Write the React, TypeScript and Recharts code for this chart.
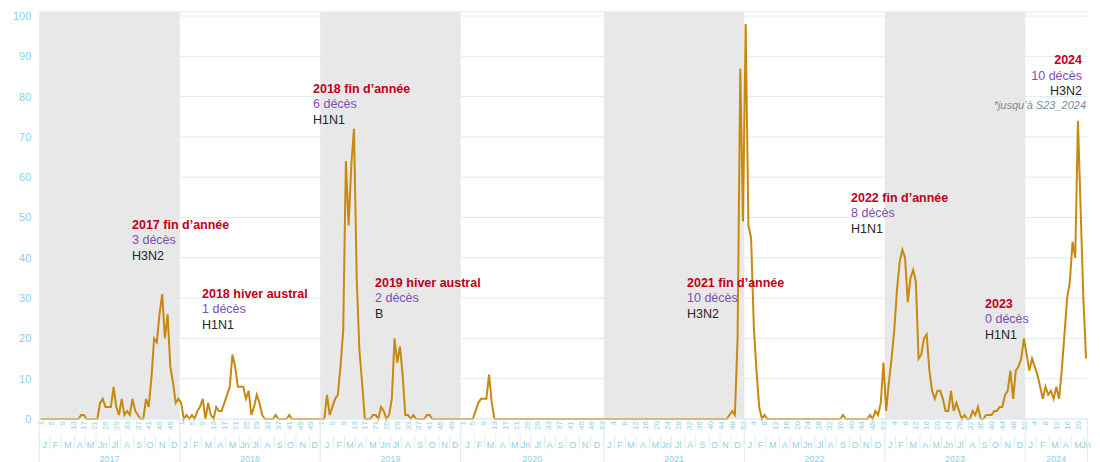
import React from "react";
import { ComposedChart, Line, XAxis, YAxis, CartesianGrid, ReferenceArea } from "recharts";

// weekly counts, read week by week from the source chart
const years = [2017, 2018, 2019, 2020, 2021, 2022, 2023, 2024];

const cases2017 = [0, 0, 0, 0, 0, 0, 0, 0, 0, 0, 0, 0, 0, 0, 0, 1, 1, 0, 0, 0, 0, 0, 4, 5, 3, 3, 3, 8, 3, 1, 5, 1, 2, 1, 5, 2, 1, 0, 0, 5, 3, 10, 20, 19, 26, 31, 20, 26, 13, 9, 4, 5];
const cases2018 = [4, 0, 1, 0, 1, 0, 2, 3, 5, 0, 4, 1, 0, 3, 2, 2, 4, 6, 8, 16, 13, 8, 8, 8, 5, 7, 1, 3, 6, 4, 1, 0, 0, 0, 0, 1, 0, 0, 0, 0, 1, 0, 0, 0, 0, 0, 0, 0, 0, 0, 0, 0];
const cases2019 = [0, 0, 6, 1, 3, 5, 6, 13, 22, 64, 48, 63, 72, 35, 17, 9, 0, 0, 0, 1, 1, 0, 3, 2, 0, 1, 5, 20, 14, 18, 11, 1, 1, 0, 1, 0, 0, 0, 0, 1, 1, 0, 0, 0, 0, 0, 0, 0, 0, 0, 0, 0];
const cases2020 = [0, 0, 0, 0, 0, 2, 4, 5, 5, 5, 11, 4, 0, 0, 0, 0, 0, 0, 0, 0, 0, 0, 0, 0, 0, 0, 0, 0, 0, 0, 0, 0, 0, 0, 0, 0, 0, 0, 0, 0, 0, 0, 0, 0, 0, 0, 0, 0, 0, 0, 0, 0, 0];
const cases2021 = [0, 0, 0, 0, 0, 0, 0, 0, 0, 0, 0, 0, 0, 0, 0, 0, 0, 0, 0, 0, 0, 0, 0, 0, 0, 0, 0, 0, 0, 0, 0, 0, 0, 0, 0, 0, 0, 0, 0, 0, 0, 0, 0, 0, 0, 0, 1, 2, 1, 20, 87, 49];
const cases2022 = [98, 48, 45, 23, 12, 3, 0, 1, 0, 0, 0, 0, 0, 0, 0, 0, 0, 0, 0, 0, 0, 0, 0, 0, 0, 0, 0, 0, 0, 0, 0, 0, 0, 0, 0, 0, 1, 0, 0, 0, 0, 0, 0, 0, 0, 0, 1, 0, 2, 1, 4, 14];
const cases2023 = [2, 9, 15, 22, 32, 39, 42, 40, 29, 35, 37, 34, 15, 16, 20, 21, 12, 7, 5, 7, 7, 5, 2, 2, 7, 2, 4, 2, 0, 1, 0, 0, 2, 1, 3, 0, 0, 1, 1, 1, 2, 2, 3, 3, 6, 7, 12, 5, 12, 13, 15, 20];
const cases2024 = [16, 12, 15, 13, 11, 8, 5, 8, 6, 7, 5, 8, 5, 12, 21, 30, 34, 44, 40, 74, 52, 30, 15];

const casesByYear = [cases2017, cases2018, cases2019, cases2020, cases2021, cases2022, cases2023, cases2024];
const shadedYears = [2017, 2019, 2021, 2023];
const monthNames = ["J", "F", "M", "A", "M", "Jn", "Jl", "A", "S", "O", "N", "D"];
const yTicks = [0, 10, 20, 30, 40, 50, 60, 70, 80, 90, 100];

const annotations = [
  { title: "2017 fin d\u2019année", deaths: "3 décès", strain: "H3N2" },
  { title: "2018 hiver austral", deaths: "1 décès", strain: "H1N1" },
  { title: "2018 fin d\u2019année", deaths: "6 décès", strain: "H1N1" },
  { title: "2019 hiver austral", deaths: "2 décès", strain: "B" },
  { title: "2021 fin d\u2019année", deaths: "10 décès", strain: "H3N2" },
  { title: "2022 fin d\u2019année", deaths: "8 décès", strain: "H1N1" },
  { title: "2023", deaths: "0 décès", strain: "H1N1" },
  { title: "2024", deaths: "10 décès", strain: "H3N2" },
];
const footnote = "*jusqu\u2019à S23_2024";

// where each note block sits (left x / baseline of first line)
const notePos = [
  { x: 132, y: 228.5, anchor: "start" },
  { x: 202, y: 297.5, anchor: "start" },
  { x: 313, y: 92.5, anchor: "start" },
  { x: 375, y: 286.5, anchor: "start" },
  { x: 687, y: 286.5, anchor: "start" },
  { x: 851, y: 201.5, anchor: "start" },
  { x: 985, y: 307.5, anchor: "start" },
  { x: 1082, y: 64, anchor: "end" },
];

const FONT = "'Liberation Sans', Arial, sans-serif";
const AXIS = "#8fd0dc";
const SEP = "#dcedf1";

// month of the Thursday of an ISO week
function isoWeekMonth(year: number, week: number) {
  const jan4 = new Date(Date.UTC(year, 0, 4));
  const dow = (jan4.getUTCDay() + 6) % 7;
  const thu = new Date(Date.UTC(year, 0, 4 - dow + 3 + 7 * (week - 1)));
  return thu.getUTCMonth();
}

type Row = { i: number; year: number; week: number; v: number };
const rows: Row[] = [];
years.forEach((yr, k) => {
  casesByYear[k].forEach((v, w) => rows.push({ i: rows.length, year: yr, week: w + 1, v }));
});
const lastIdx = rows.length - 1;

const yearSpans = years.map((yr) => {
  const r = rows.filter((d) => d.year === yr);
  return { year: yr, start: r[0].i, end: r[r.length - 1].i };
});

const weekTicks = rows.filter((d) => d.i % 4 === 0).map((d) => d.i);

type Group = { key: string; start: number; sum: number; n: number; label: string };
const monthGroups: Group[] = [];
rows.forEach((d) => {
  const m = isoWeekMonth(d.year, d.week);
  const key = `${d.year}-${m}`;
  const g = monthGroups[monthGroups.length - 1];
  if (g && g.key === key) {
    g.sum += d.i;
    g.n += 1;
  } else {
    monthGroups.push({ key, start: d.i, sum: d.i, n: 1, label: monthNames[m] });
  }
});

// label ticks sit at group centres, separator ticks at group edges
const monthMarks = new Map<number, string | null>();
monthGroups.forEach((g) => {
  monthMarks.set(g.start - 0.5, null);
  monthMarks.set(g.sum / g.n, g.label);
});
const yearMarks = new Map<number, string | null>();
yearSpans.forEach((s) => {
  yearMarks.set(s.start - 0.5, null);
  yearMarks.set((s.start + s.end) / 2, String(s.year));
});
yearMarks.set(lastIdx + 0.5, null);

const WeekTick = (props: any) => {
  const { x, y, payload } = props;
  const ty = y + 1;
  return (
    <text x={x} y={ty} transform={`rotate(-90 ${x} ${ty})`} textAnchor="end" dy="0.33em" fontSize={8} fill={AXIS} fontFamily={FONT}>
      {rows[payload.value].week}
    </text>
  );
};

const MonthTick = (props: any) => {
  const { x, y, payload } = props;
  const label = monthMarks.get(payload.value);
  if (label == null) return <line x1={x} x2={x} y1={y} y2={y + 14} stroke={SEP} strokeWidth={1} />;
  return (
    <text x={x} y={y + 12.5} textAnchor="middle" fontSize={9} fill={AXIS} fontFamily={FONT}>
      {label}
    </text>
  );
};

const YearTick = (props: any) => {
  const { x, y, payload } = props;
  const label = yearMarks.get(payload.value);
  if (label == null) return <line x1={x} x2={x} y1={y - 30} y2={y + 13} stroke={SEP} strokeWidth={1} />;
  return (
    <text x={x} y={y + 12.5} textAnchor="middle" fontSize={9} fill={AXIS} fontFamily={FONT}>
      {label}
    </text>
  );
};

export default function App() {
  return (
    <div style={{ position: "absolute", left: 0, top: 0, width: 1100, height: 462, background: "#fff" }}>
      <ComposedChart width={1100} height={462} data={rows} margin={{ top: 12, right: 12.6, bottom: 0, left: 0 }}>
        {yearSpans
          .filter((s) => shadedYears.includes(s.year))
          .map((s) => (
            <ReferenceArea key={s.year} xAxisId={0} x1={s.start - 0.5} x2={s.end + 0.5} fill="#e8e8e8" fillOpacity={1} stroke="none" />
          ))}
        <CartesianGrid xAxisId={0} vertical={false} stroke="#d9eef2" />
        <XAxis
          xAxisId={0}
          dataKey="i"
          type="number"
          domain={[-0.5, lastIdx + 0.5]}
          ticks={weekTicks}
          interval={0}
          tick={<WeekTick />}
          tickSize={1}
          tickMargin={0}
          tickLine={false}
          axisLine={{ stroke: "#d9eef2" }}
          height={16}
        />
        <XAxis
          xAxisId={1}
          dataKey="i"
          type="number"
          domain={[-0.5, lastIdx + 0.5]}
          ticks={Array.from(monthMarks.keys())}
          interval={0}
          tick={<MonthTick />}
          tickSize={0}
          tickMargin={0}
          tickLine={false}
          axisLine={false}
          height={14}
        />
        <XAxis
          xAxisId={2}
          dataKey="i"
          type="number"
          domain={[-0.5, lastIdx + 0.5]}
          ticks={Array.from(yearMarks.keys())}
          interval={0}
          tick={<YearTick />}
          tickSize={0}
          tickMargin={0}
          tickLine={false}
          axisLine={false}
          height={13}
        />
        <YAxis
          domain={[0, 101]}
          ticks={yTicks}
          interval={0}
          width={39.3}
          tickLine={false}
          axisLine={false}
          tick={{ fill: AXIS, fontSize: 11, fontFamily: FONT }}
        />
        <Line xAxisId={0} dataKey="v" type="linear" stroke="#c8890f" strokeWidth={2} dot={false} activeDot={false} isAnimationActive={false} />
      </ComposedChart>
      <svg width={1100} height={462} style={{ position: "absolute", left: 0, top: 0, pointerEvents: "none" }} fontFamily={FONT}>
        {annotations.map((a, k) => {
          const p = notePos[k];
          return (
            <g key={k} textAnchor={p.anchor} fontSize={12.5}>
              <text x={p.x} y={p.y} fill="#c00018" fontWeight="bold">{a.title}</text>
              <text x={p.x} y={p.y + 15.6} fill="#7b4fb0">{a.deaths}</text>
              <text x={p.x} y={p.y + 31.2} fill="#262626">{a.strain}</text>
            </g>
          );
        })}
        <text x={1086} y={108.5} textAnchor="end" fontSize={11} fontStyle="italic" fill="#7d8b90">{footnote}</text>
      </svg>
    </div>
  );
}
